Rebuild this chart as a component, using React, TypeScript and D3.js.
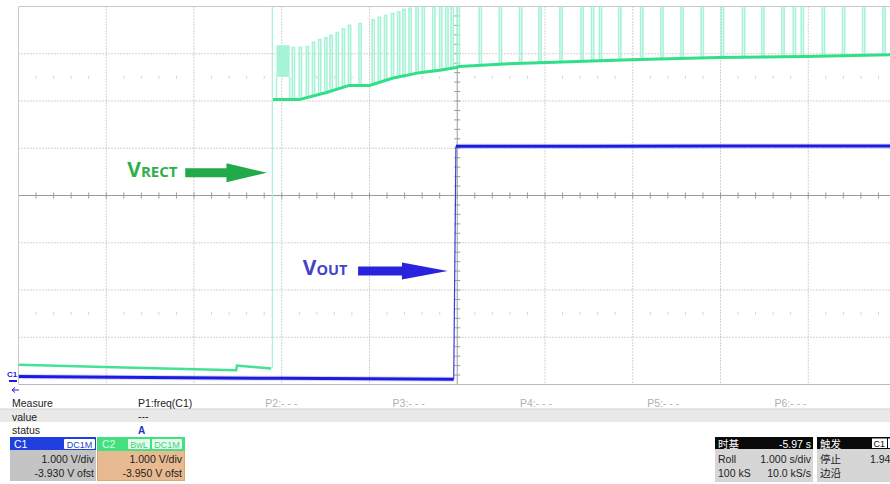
import React from 'react';
import * as d3 from 'd3';

// scope setting: 1 s/div on 10 divisions, 1 V/div on 8 divisions
const C1_OFFSET = -3.93;
const C2_OFFSET = -3.95;

// C1 (VOUT), blue
const c1Times = [0, 1.5, 3.0, 4.96, 4.985, 6.5, 8.0, 10];
const c1Volts = [0.1, 0.08, 0.06, 0.04, 4.97, 4.97, 4.975, 4.98];
const c1StepIndex = 4; // first sample after the rising edge

// C2 (VRECT), green: level before the burst
const c2PreTimes = [0, 1.2, 2.48, 2.49, 2.88];
const c2PreVolts = [0.37, 0.31, 0.25, 0.35, 0.29];

// C2 base level during and after the burst
const c2BaseTimes = [2.9, 3.2, 3.51, 3.77, 4.0, 4.26, 4.57, 4.8, 4.99, 5.02, 5.59, 5.93, 7.07, 7.98, 8.97, 10];
const c2BaseVolts = [5.98, 5.98, 6.13, 6.28, 6.28, 6.43, 6.55, 6.6, 6.66, 6.68, 6.74, 6.76, 6.83, 6.87, 6.89, 6.93];

// C2 burst pulses (time, peak)
const burstTimes = [3.12, 3.2, 3.28, 3.35, 3.42, 3.49, 3.55, 3.62, 3.69, 3.76, 3.88, 4.03, 4.1, 4.17, 4.25, 4.32, 4.38, 4.45, 4.53, 4.6, 4.72, 4.8, 4.87, 4.93];
const burstPeaks = [7.08, 7.08, 7.1, 7.19, 7.25, 7.29, 7.34, 7.4, 7.48, 7.55, 7.59, 7.67, 7.72, 7.76, 7.8, 7.84, 7.89, 7.91, 8.2, 8.2, 8.2, 8.2, 8.2, 8.2];

// C2 pulses after VOUT turns on (all clipped at top of screen)
const pulseTimes = [5.0, 5.25, 5.48, 5.71, 5.93, 6.17, 6.41, 6.53, 6.62, 6.84, 7.09, 7.32, 7.55, 7.78, 8.01, 8.25, 8.47, 8.7, 8.83, 8.92, 9.16, 9.39, 9.62, 9.85];
const pulsePeak = 8.2;

const spikeTime = 2.893;
const blockTimes = [2.94, 3.09];
const blockVolts = [6.46, 7.13];

const measureLabels = ['Measure', 'value', 'status'];
const measureCols = ['P1:freq(C1)', 'P2:- - -', 'P3:- - -', 'P4:- - -', 'P5:- - -', 'P6:- - -'];

const PW = 0.025;

const x = d3.scaleLinear().domain([0, 10]).range([18.5, 896]);
const yDiv = d3.scaleLinear().domain([-4, 4]).range([384.5, 6.5]);
const yC1 = (v: number) => yDiv(v + C1_OFFSET);
const yC2 = (v: number) => yDiv(v + C2_OFFSET);
const baseAt = d3.scaleLinear().domain(c2BaseTimes).range(c2BaseVolts);

const GREEN = '#30df88';
const MINT = '#a6f3d6';
const BLUE = '#1c1ce0';
const SANS = '"Liberation Sans", Arial, sans-serif';
const CJK = '"Noto Sans CJK SC", sans-serif';

const App: React.FC = () => {
  const c1Line = d3.line<number>().x(i => x(c1Times[i])).y(i => yC1(c1Volts[i]));
  const c1Low = c1Line(d3.range(0, c1StepIndex)) || '';
  const c1High = c1Line(d3.range(c1StepIndex, c1Times.length)) || '';
  const c1Edge = c1Line([c1StepIndex - 1, c1StepIndex]) || '';
  const preLine = d3.line<number>().x((_, i) => x(c2PreTimes[i])).y(v => yC2(v))(c2PreVolts) || '';
  const baseLine = d3.line<number>().x((_, i) => x(c2BaseTimes[i])).y(v => yC2(v))(c2BaseVolts) || '';

  const pulsePath = (t: number, peak: number) => {
    const b = yC2(baseAt(t));
    return `M${x(t)},${b}V${yC2(peak)}H${x(t + PW)}V${b}`;
  };

  const majorX = d3.range(0, 11);
  const majorY = d3.range(-4, 5);
  const minorX = d3.range(0, 10.001, 0.2);
  const minorY = d3.range(-4, 4.001, 0.2);

  const arrow = (t0: number, t1: number, t2: number, d: number, sh: number, hh: number) => {
    const yc = yDiv(d);
    return `M${x(t0)},${yc - sh}H${x(t1)}V${yc - hh}L${x(t2)},${yc}L${x(t1)},${yc + hh}V${yc + sh}H${x(t0)}Z`;
  };

  return (
    <div style={{ position: 'absolute', left: 0, top: 0, width: 890, height: 484, background: '#fff' }}>
      <svg width={890} height={484} style={{ display: 'block' }}>
        <defs>
          <clipPath id="plot">
            <rect x={x(0)} y={yDiv(4)} width={x(10) - x(0)} height={yDiv(-4) - yDiv(4)} />
          </clipPath>
        </defs>
        <rect width={890} height={484} fill="#fff" />

        {/* grid */}
        <g>
          {majorX.filter(i => i !== 5 && i !== 0).map(i => (
            <line key={'vx' + i} x1={x(i)} x2={x(i)} y1={yDiv(4)} y2={yDiv(-4)} stroke="#a4a4a4" strokeDasharray="1 2" />
          ))}
          {majorY.filter(j => j !== 0 && Math.abs(j) !== 4).map(j => (
            <line key={'hy' + j} x1={x(0)} x2={x(10)} y1={yDiv(j)} y2={yDiv(j)} stroke="#a4a4a4" strokeDasharray="1 2" />
          ))}
          {[2.5, -2.5].map(r => minorX.filter(t => Math.abs(t - Math.round(t)) > 0.01).map(t => (
            <line key={'m' + r + t} x1={x(t)} x2={x(t)} y1={yDiv(r) - 1.5} y2={yDiv(r) + 1.5} stroke="#d4d4d4" />
          )))}
          <line x1={x(5)} x2={x(5)} y1={yDiv(4)} y2={yDiv(-4)} stroke="#9a9a9a" />
          <line x1={x(0)} x2={x(10)} y1={yDiv(0)} y2={yDiv(0)} stroke="#9a9a9a" />
          {minorY.map(d => (
            <line key={'ty' + d} x1={x(5) - 3} x2={x(5) + 3} y1={yDiv(d)} y2={yDiv(d)} stroke="#9a9a9a" />
          ))}
          {minorX.map(t => (
            <line key={'tx' + t} x1={x(t)} x2={x(t)} y1={yDiv(0) - 3} y2={yDiv(0) + 3} stroke="#9a9a9a" />
          ))}
          <line x1={x(0)} x2={890} y1={yDiv(4)} y2={yDiv(4)} stroke="#c8c8c8" />
          <line x1={x(0)} x2={890} y1={yDiv(-4)} y2={yDiv(-4)} stroke="#b8b8b8" />
          <line x1={x(0)} x2={x(0)} y1={yDiv(4)} y2={yDiv(-4)} stroke="#c8c8c8" />
        </g>

        {/* traces */}
        <g clipPath="url(#plot)">
          <path d={`M${x(spikeTime)},${yC2(0.29)}V${yDiv(4.2)}`} stroke={MINT} strokeWidth={1.2} fill="none" />
          <rect x={x(blockTimes[0])} y={yC2(blockVolts[1])} width={x(blockTimes[1]) - x(blockTimes[0])}
            height={yC2(blockVolts[0]) - yC2(blockVolts[1])} fill={MINT} />
          {blockTimes.map(t => (
            <path key={'bl' + t} d={`M${x(t)},${yC2(blockVolts[0])}V${yC2(baseAt(t))}`} stroke={MINT} strokeWidth={1.5} />
          ))}
          {burstTimes.map((t, i) => (
            <path key={'b' + t} d={pulsePath(t, burstPeaks[i])} stroke={MINT} strokeWidth={1.6} fill="none" />
          ))}
          {pulseTimes.map(t => (
            <path key={'p' + t} d={pulsePath(t, pulsePeak)} stroke={MINT} strokeWidth={1.6} fill="none" />
          ))}
          <path d={baseLine} stroke={GREEN} strokeWidth={3} fill="none" />
          <path d={preLine} stroke={GREEN} strokeWidth={2.5} fill="none" opacity={0.9} />
          <path d={c1Edge} stroke="#3a3ae6" strokeWidth={1.2} fill="none" />
          {[c1Low, c1High].map((d, i) => (
            <g key={'c1' + i}>
              <path d={d} stroke="#8f8ff2" strokeWidth={5} fill="none" opacity={0.35} />
              <path d={d} stroke={BLUE} strokeWidth={3} fill="none" />
            </g>
          ))}
        </g>

        {/* annotations */}
        <text x={x(1.24)} y={yDiv(0.39)} fill="#2fae4c" fontFamily='"Open Sans", sans-serif' fontWeight={700}>
          <tspan fontSize={21}>V</tspan><tspan fontSize={15}>RECT</tspan>
        </text>
        <path d={arrow(1.9, 2.37, 2.83, 0.48, 4.5, 9.5)} fill="#22a94a" />
        <text x={x(3.24)} y={yDiv(-1.69)} fill="#4343cc" fontFamily='"Open Sans", sans-serif' fontWeight={700}>
          <tspan fontSize={21}>V</tspan><tspan fontSize={14.5}>OUT</tspan>
        </text>
        <path d={arrow(3.87, 4.37, 4.89, -1.6, 4.5, 8.5)} fill="#2a22dc" />

        {/* channel marker */}
        <text x={7} y={377} fontSize={8} fontWeight={700} fill={BLUE} fontFamily={SANS}>C1</text>
        <rect x={9} y={380} width={8} height={2} fill={BLUE} />
        <path d="M12,390H19M12,390L15,387.5M12,390L15,392.5" stroke={BLUE} strokeWidth={1} fill="none" />

        {/* measure table */}
        <rect x={0} y={409} width={890} height={13} fill="#e9e9e9" />
        <line x1={0} x2={890} y1={409} y2={409} stroke="#d0d0d0" />
        {measureLabels.map((l, i) => (
          <text key={l} x={12} y={407 + i * 13.5} fontSize={10.5} fill="#222" fontFamily={SANS}>{l}</text>
        ))}
        {measureCols.map((c, i) => (
          <text key={c} x={138 + i * 127.3} y={407} fontSize={10.5} fill={i === 0 ? '#222' : '#b0b0b0'} fontFamily={SANS}>{c}</text>
        ))}
        <text x={138} y={420} fontSize={10.5} fill="#222" fontFamily={SANS}>---</text>
        <text x={138} y={434} fontSize={10} fontWeight={700} fill="#2233bb" fontFamily={SANS}>A</text>

        {/* C1 box */}
        <rect x={10} y={437} width={86} height={44} fill="#c4c4c4" />
        <rect x={10} y={437} width={86} height={13} fill="#1f3fe0" />
        <text x={14} y={447.5} fontSize={10.5} fill="#fff" fontFamily={SANS}>C1</text>
        <rect x={64} y={439} width={31} height={10} fill="#fff" rx={1} />
        <text x={79.5} y={447.5} fontSize={9} fill="#2244cc" textAnchor="middle" fontFamily={SANS}>DC1M</text>
        <text x={94} y={463} fontSize={10.5} fill="#222" textAnchor="end" fontFamily={SANS}>1.000 V/div</text>
        <text x={94} y={476.5} fontSize={10.5} fill="#222" textAnchor="end" fontFamily={SANS}>-3.930 V ofst</text>

        {/* C2 box */}
        <rect x={97.5} y={437.5} width={87} height={43} fill="#e8ba91" stroke="#e3a467" />
        <rect x={97.5} y={437.5} width={87} height={13} fill="#44e07f" stroke="#44e07f" />
        <text x={102} y={447.5} fontSize={10.5} fill="#dcfbe8" fontFamily={SANS}>C2</text>
        <rect x={128} y={439} width={22} height={10} fill="#e4fbee" rx={1} />
        <text x={139} y={447.5} fontSize={9} fill="#3fd27a" textAnchor="middle" fontFamily={SANS}>BwL</text>
        <rect x={152} y={439} width={30} height={10} fill="#e4fbee" rx={1} />
        <text x={167} y={447.5} fontSize={9} fill="#3fd27a" textAnchor="middle" fontFamily={SANS}>DC1M</text>
        <text x={182} y={463} fontSize={10.5} fill="#222" textAnchor="end" fontFamily={SANS}>1.000 V/div</text>
        <text x={182} y={476.5} fontSize={10.5} fill="#222" textAnchor="end" fontFamily={SANS}>-3.950 V ofst</text>

        {/* timebase box */}
        <rect x={715} y={437} width={98} height={45} fill="#d6d6d6" />
        <rect x={715} y={437} width={98} height={12} fill="#0a0a0a" />
        <text x={718} y={447.5} fontSize={10.5} fill="#fff" fontFamily={CJK}>时基</text>
        <text x={811} y={447.5} fontSize={10.5} fill="#fff" textAnchor="end" fontFamily={SANS}>-5.97 s</text>
        <text x={718} y={463} fontSize={10.5} fill="#222" fontFamily={SANS}>Roll</text>
        <text x={811} y={463} fontSize={10.5} fill="#222" textAnchor="end" fontFamily={SANS}>1.000 s/div</text>
        <text x={718} y={476.5} fontSize={10.5} fill="#222" fontFamily={SANS}>100 kS</text>
        <text x={811} y={476.5} fontSize={10.5} fill="#222" textAnchor="end" fontFamily={SANS}>10.0 kS/s</text>

        {/* trigger box */}
        <rect x={817} y={437} width={73} height={45} fill="#d6d6d6" />
        <rect x={817} y={437} width={73} height={12} fill="#0a0a0a" />
        <text x={820} y={447.5} fontSize={10.5} fill="#fff" fontFamily={CJK}>触发</text>
        <rect x={872} y={438.5} width={15} height={9.5} fill="#fff" />
        <text x={873.5} y={447} fontSize={9} fill="#111" fontFamily={SANS}>C1</text>
        <rect x={888} y={438.5} width={4} height={9.5} fill="#fff" />
        <text x={820} y={463} fontSize={10.5} fill="#222" fontFamily={CJK}>停止</text>
        <text x={870} y={463} fontSize={10.5} fill="#222" fontFamily={SANS}>1.94</text>
        <text x={820} y={476.5} fontSize={10.5} fill="#222" fontFamily={CJK}>边沿</text>
      </svg>
    </div>
  );
};

export default App;
